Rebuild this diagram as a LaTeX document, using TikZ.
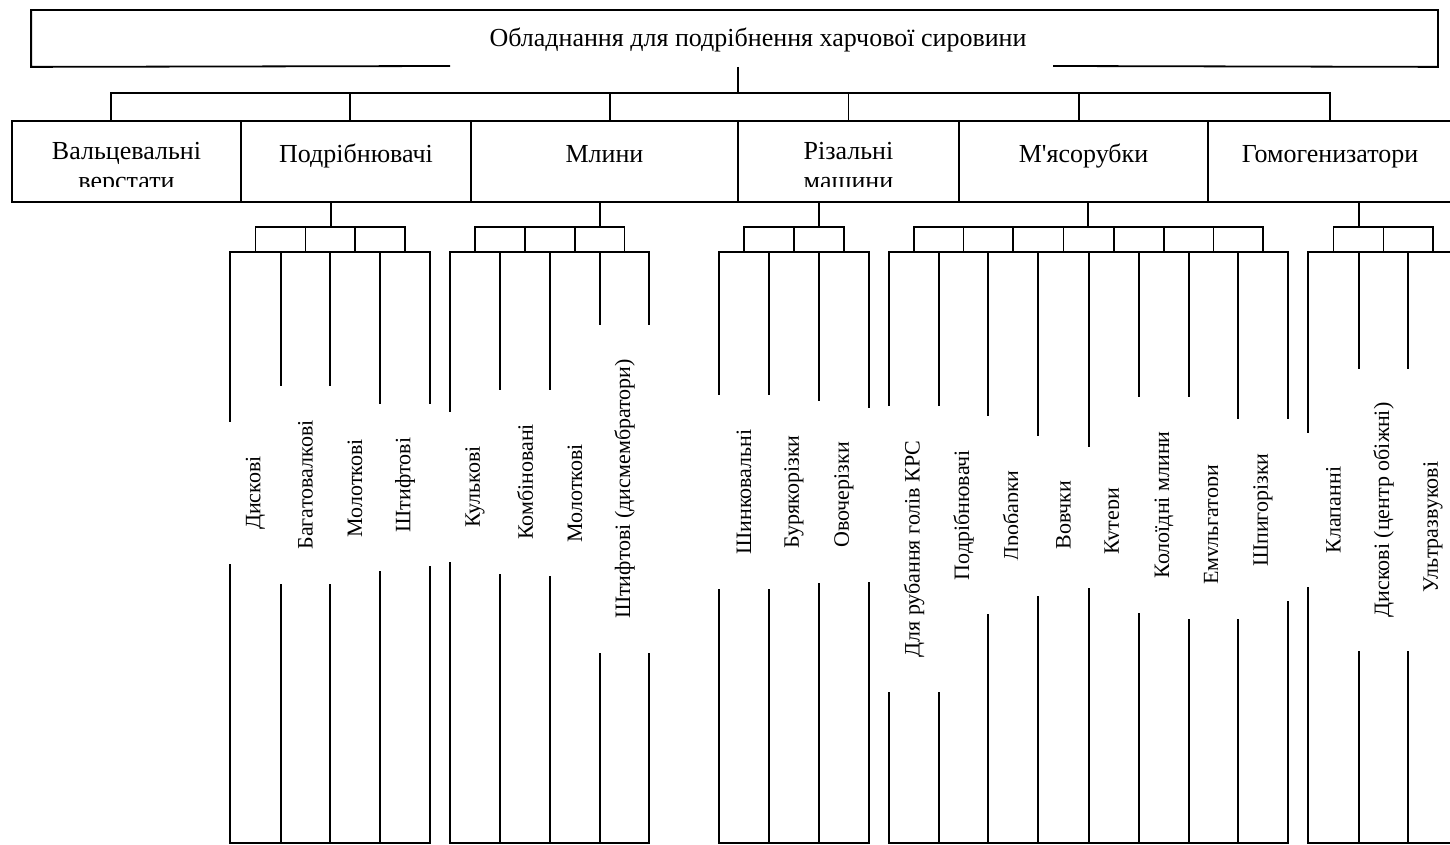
\documentclass[tikz,border=0pt]{standalone}
\usepackage{fontspec}
\setmainfont{Liberation Serif}
\usetikzlibrary{fit}

\begin{document}
\begin{tikzpicture}[
  x=0.5pt, y=-0.5pt,
  line width=0.9pt,
  frame/.style={draw=none, inner sep=0pt},
  box/.style={draw, inner sep=0pt},
  leaf/.style={draw, inner sep=0pt},
  title/.style={font=\fontsize{13}{15}\selectfont, inner sep=0pt},
  head/.style={font=\fontsize{13}{15}\selectfont, align=center, anchor=north,
               inner sep=0pt, yshift=-10.5pt, execute at begin node=\strut},
  ltxt/.style={rotate=90, fill=white, font=\fontsize{11}{13}\selectfont,
               inner xsep=17pt, inner ysep=0pt, minimum height=27pt},
]
\useasboundingbox (0,0) rectangle (1450,845);
% --- TOP ---
\node[frame, fit={(32,11) (1437,66)}] (top) {};
\draw (450,66) -- (top.south west) -- (top.north west) -- (top.north east)
  -- (top.south east) -- (1053,66);
\node[title] (title) at (758,40) {Обладнання для подрібнення харчової сировини};
% --- LEVEL 1 ---
\node[box, fit={(12,121) (241,202)}] (valc) {};
\node[box, fit={(241,121) (471,202)}] (podr) {};
\node[box, fit={(471,121) (738,202)}] (mlyn) {};
\node[box, fit={(738,121) (959,202)}] (rizal) {};
\node[box, fit={(959,121) (1208,202)}] (myas) {};
\node[box, fit={(1208,121) (1452,202)}] (gomo) {};
\begin{scope}
  \clip (0,100) rectangle (1450,187);
  \node[head] (valc-t) at (valc.north) {Вальцевальні\\верстати};
  \node[head] (podr-t) at (podr.north) {Подрібнювачі};
  \node[head] (mlyn-t) at (mlyn.north) {Млини};
  \node[head] (rizal-t) at (rizal.north) {Різальні\\машини};
  \node[head] (myas-t) at (myas.north) {М\textquotesingle ясорубки};
  \node[head] (gomo-t) at (gomo.north) {Гомогенизатори};
\end{scope}
% --- LEAVES ---
\node[leaf, fit={(230,252) (281,843)}] (disk1) {};
\node[leaf, fit={(281,252) (330,843)}] (bagat) {};
\node[leaf, fit={(330,252) (380,843)}] (molot1) {};
\node[leaf, fit={(380,252) (430,843)}] (shtyf1) {};
\node[leaf, fit={(450,252) (500,843)}] (kulk) {};
\node[leaf, fit={(500,252) (550,843)}] (kombi) {};
\node[leaf, fit={(550,252) (600,843)}] (molot2) {};
\node[leaf, fit={(600,252) (649,843)}] (shtyf2) {};
\node[leaf, fit={(719,252) (769,843)}] (shynk) {};
\node[leaf, fit={(769,252) (819,843)}] (buryak) {};
\node[leaf, fit={(819,252) (869,843)}] (ovoch) {};
\node[leaf, fit={(889,252) (939,843)}] (rub) {};
\node[leaf, fit={(939,252) (988,843)}] (podr2) {};
\node[leaf, fit={(988,252) (1038,843)}] (drob) {};
\node[leaf, fit={(1038,252) (1089,843)}] (vovch) {};
\node[leaf, fit={(1089,252) (1139,843)}] (kuter) {};
\node[leaf, fit={(1139,252) (1189,843)}] (koloid) {};
\node[leaf, fit={(1189,252) (1238,843)}] (emul) {};
\node[leaf, fit={(1238,252) (1288,843)}] (shpyg) {};
\node[leaf, fit={(1308,252) (1359,843)}] (klap) {};
\node[leaf, fit={(1359,252) (1408,843)}] (disk2) {};
\node[leaf, fit={(1408,252) (1458,843)}] (ultra) {};
% --- LEAF TEXTS ---
\node[ltxt] (disk1-t) at (255.5,493) {Дискові};
\node[ltxt] (bagat-t) at (305.5,485) {Багатовалкові};
\node[ltxt] (molot1-t) at (355,488) {Молоткові};
\node[ltxt] (shtyf1-t) at (405,485) {Штифтові};
\node[ltxt] (kulk-t) at (475,487) {Кулькові};
\node[ltxt] (kombi-t) at (525,482) {Комбіновані};
\node[ltxt] (molot2-t) at (575,493) {Молоткові};
\node[ltxt] (shtyf2-t) at (624.5,489) {Штифтові (дисмембратори)};
\node[ltxt] (shynk-t) at (744,492) {Шинковальні};
\node[ltxt] (buryak-t) at (794,492) {Бурякорізки};
\node[ltxt] (ovoch-t) at (844,495) {Овочерізки};
\node[ltxt] (rub-t) at (914,549) {Для рубання голів КРС};
\node[ltxt] (podr2-t) at (963.5,515) {Подрібнювачі};
\node[ltxt, text=white] (drob-t) at (1013,516) {Дробарки};
\node[ltxt] (vovch-t) at (1063.5,515) {Вовчки};
\node[ltxt, text=white] (kuter-t) at (1114,521) {Кутери};
\node[ltxt] (koloid-t) at (1164,505) {Колоїдні млини};
\node[ltxt, text=white] (emul-t) at (1213.5,525) {Емульгатори};
\node[ltxt] (shpyg-t) at (1263,510) {Шпигорізки};
\node[ltxt] (klap-t) at (1333.5,510) {Клапанні};
\node[ltxt] (disk2-t) at (1383.5,510) {Дискові (центр обіжні)};
\node[ltxt] (ultra-t) at (1433,527) {Ультразвукові};
\begin{scope}
  \clip (980,300) rectangle (1017,700) (1080,300) rectangle (1118,700)
    (1180,300) rectangle (1217,700);
  \node[ltxt, fill=none] (drob-c) at (drob-t) {Дробарки};
  \node[ltxt, fill=none] (kuter-c) at (kuter-t) {Кутери};
  \node[ltxt, fill=none] (emul-c) at (emul-t) {Емульгатори};
\end{scope}
% --- CONNECTORS ---
\coordinate (b1) at (738,93);
\draw (top.south -| b1) -- (b1);
\draw ([xshift=-7.75pt]valc.north) |- (b1);
\draw ([xshift=-3pt]podr.north) |- (b1);
\draw ([xshift=2.75pt]mlyn.north) |- (b1);
\draw (rizal.north) |- (b1);
\draw ([xshift=-2.25pt]myas.north) |- (b1);
\draw (gomo.north) |- (b1);
\coordinate (j1) at (331,227);
\coordinate (j2) at (600,227);
\coordinate (j3) at (819,227);
\coordinate (j4) at (1088,227);
\coordinate (j5) at (1359,227);
\draw (podr.south -| j1) -- (j1);
\draw (mlyn.south -| j2) -- (j2);
\draw (rizal.south -| j3) -- (j3);
\draw (myas.south -| j4) -- (j4);
\draw (gomo.south -| j5) -- (j5);
\draw (disk1.north) |- (j1);
\draw (bagat.north) |- (j1);
\draw (molot1.north) |- (j1);
\draw (shtyf1.north) |- (j1);
\draw (kulk.north) |- (j2);
\draw (kombi.north) |- (j2);
\draw (molot2.north) |- (j2);
\draw (shtyf2.north) |- (j2);
\draw (shynk.north) |- (j3);
\draw (buryak.north) |- (j3);
\draw (ovoch.north) |- (j3);
\draw (rub.north) |- (j4);
\draw (podr2.north) |- (j4);
\draw (drob.north) |- (j4);
\draw (vovch.north) |- (j4);
\draw (kuter.north) |- (j4);
\draw (koloid.north) |- (j4);
\draw (emul.north) |- (j4);
\draw (shpyg.north) |- (j4);
\draw (klap.north) |- (j5);
\draw (disk2.north) |- (j5);
\draw (ultra.north) |- (j5);
\end{tikzpicture}
\end{document}
